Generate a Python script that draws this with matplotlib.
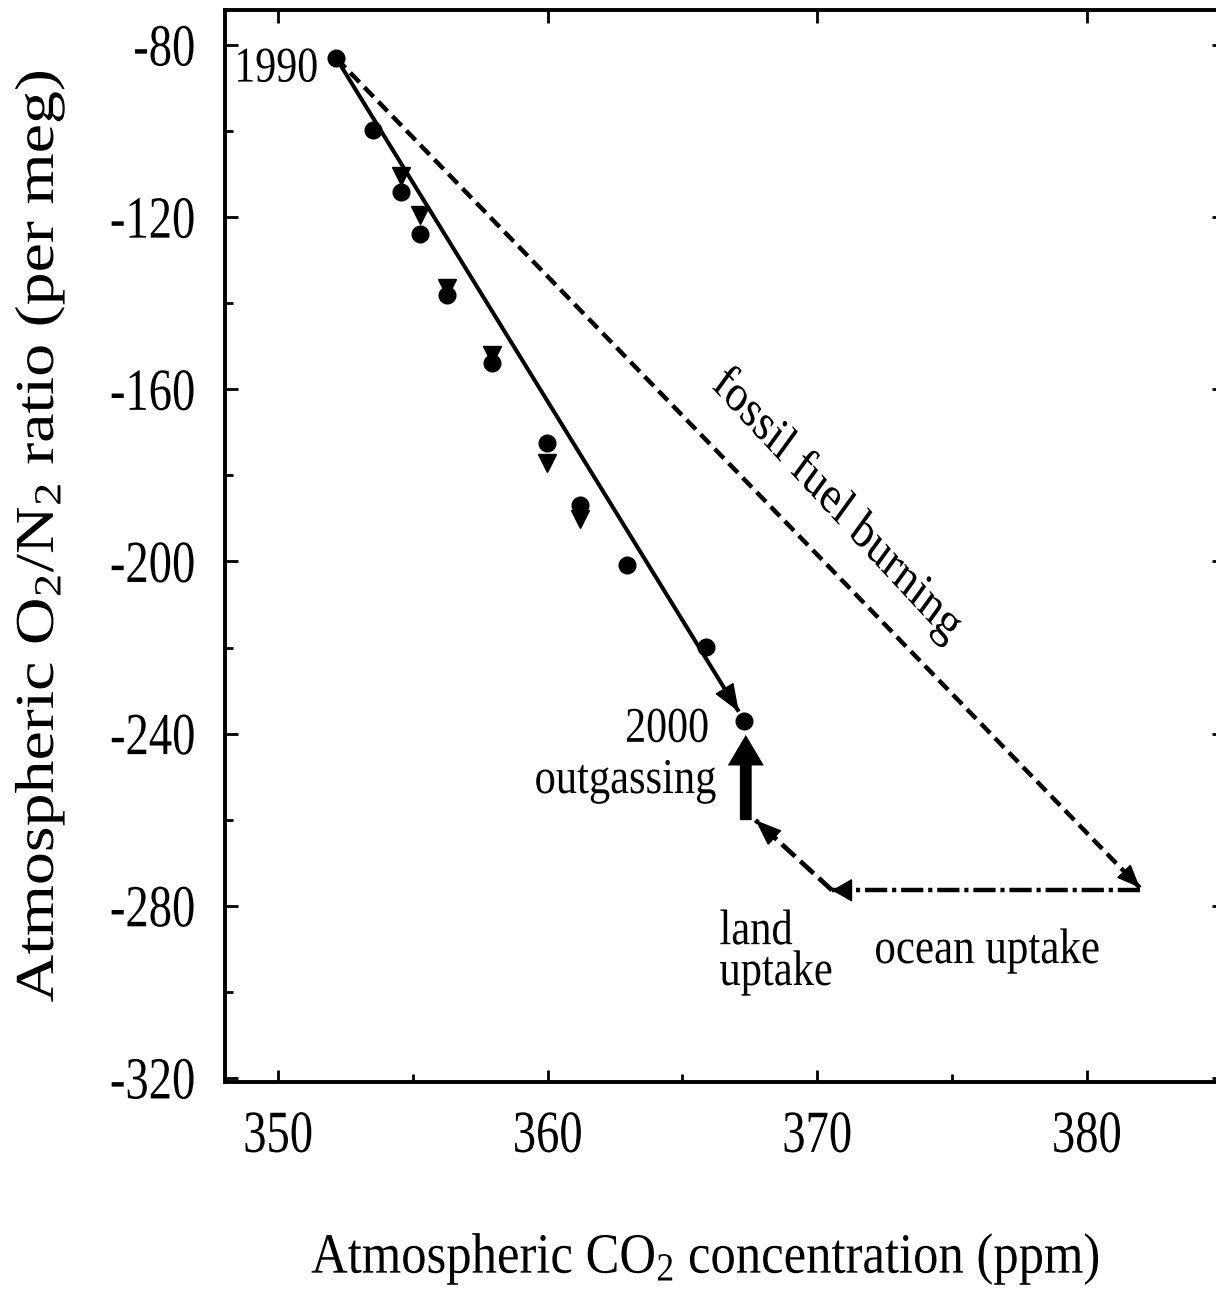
import matplotlib
matplotlib.use("Agg")
import matplotlib.pyplot as plt
from matplotlib.patheffects import AbstractPathEffect
from matplotlib.transforms import Affine2D

plt.rcParams["font.family"] = ["Liberation Serif", "DejaVu Serif"]
plt.rcParams["mathtext.fontset"] = "custom"
plt.rcParams["mathtext.rm"] = "Liberation Serif"
plt.rcParams["mathtext.it"] = "Liberation Serif:italic"
plt.rcParams["axes.unicode_minus"] = False
plt.rcParams["lines.scale_dashes"] = False

# ------------------------------------------------------------
# Data: annual means (CO2 in ppm, O2/N2 in per meg)
# ------------------------------------------------------------
circle_co2 = [352.16, 353.52, 354.57, 355.28, 356.27, 357.94,
              359.97, 361.21, 362.96, 365.86, 367.30]
circle_o2 = [-83.1, -99.7, -114.1, -123.8, -138.1, -154.0,
             -172.5, -186.9, -200.8, -219.8, -237.0]

tri_co2 = [354.57, 355.28, 356.27, 357.94, 359.97, 361.21]
tri_o2 = [-110.4, -119.5, -136.5, -152.0, -177.1, -190.1]

# budget vectors 1990 -> 2000
fit_start = (352.16, -83.1)
fit_end = (367.09, -234.9)
fossil_end = (381.97, -275.8)
ocean_start = (381.97, -276.4)
ocean_end = (370.55, -276.4)
land_end = (367.71, -260.1)
outgas_start = (367.35, -260.1)
outgas_end = (367.35, -240.3)

xticks = [350, 360, 370, 380]
xticks_minor = [355, 365, 375, 385]
yticks = [-80, -120, -160, -200, -240, -280, -320]
yticks_minor = [-100, -140, -180, -220, -260, -300]


class Narrow(AbstractPathEffect):
    """Draw glyphs compressed horizontally about their own ink box."""

    def __init__(self, sx=0.8, anchor="center"):
        super().__init__()
        self.sx = sx
        self.anchor = anchor

    def draw_path(self, renderer, gc, tpath, affine, rgbFace=None):
        ext = tpath.get_extents(affine)
        if self.anchor == "left":
            x0 = ext.x0
        elif self.anchor == "right":
            x0 = ext.x1
        else:
            x0 = 0.5 * (ext.x0 + ext.x1)
        squeeze = Affine2D().translate(-x0, 0).scale(self.sx, 1).translate(x0, 0)
        renderer.draw_path(gc, tpath, affine + squeeze, rgbFace)


def head(ax, start, end, hl, hw, frac=0.03):
    back = (end[0] - frac * (end[0] - start[0]),
            end[1] - frac * (end[1] - start[1]))
    ax.annotate("", xy=end, xytext=back,
                arrowprops=dict(arrowstyle=f"-|>,head_length={hl},head_width={hw}",
                                color="black", lw=1.0, shrinkA=0, shrinkB=0,
                                mutation_scale=10))


fig = plt.figure(figsize=(12.16, 12.96), dpi=100)
ax = fig.add_axes([0.18503, 0.16535, 0.82155, 0.82693])
ax.set_xlim(348.03, 385.09)
ax.set_ylim(-320.87, -71.87)

for s in ax.spines.values():
    s.set_linewidth(2.8)

ax.set_xticks(xticks)
ax.set_xticks(xticks_minor, minor=True)
ax.set_yticks(yticks)
ax.set_yticks(yticks_minor, minor=True)
ax.tick_params(which="both", direction="in", top=True, right=True, width=2.0)
ax.tick_params(which="major", length=9, labelsize=43, pad=21)
ax.tick_params(which="minor", length=6, top=False, right=False)

for lab in ax.get_xticklabels():
    lab.set_path_effects([Narrow(0.78, "center")])
for lab in ax.get_yticklabels():
    lab.set_path_effects([Narrow(0.78, "right")])

# fitted trend 1990-2000
ax.plot([fit_start[0], fit_end[0]], [fit_start[1], fit_end[1]],
        color="black", lw=2.9, solid_capstyle="butt")
head(ax, fit_start, fit_end, 1.8, 0.7, frac=0.025)

# fossil fuel burning
ax.plot([fit_start[0], fossil_end[0]], [fit_start[1], fossil_end[1]],
        color="black", lw=3.2, dashes=(9.5, 5))
head(ax, fit_start, fossil_end, 1.5, 0.62, frac=0.02)

# ocean uptake
ax.plot([ocean_start[0], ocean_end[0]], [ocean_start[1], ocean_end[1]],
        color="black", lw=3.2, dashes=(16, 3.5, 3, 3.5))
head(ax, ocean_start, ocean_end, 1.3, 0.75, frac=0.05)

# land uptake
ax.plot([ocean_end[0], land_end[0]], [ocean_end[1], land_end[1]],
        color="black", lw=3.4, dashes=(13, 5))
head(ax, ocean_end, land_end, 1.7, 0.65, frac=0.2)

# oceanic outgassing
ax.annotate("", xy=outgas_end, xytext=outgas_start,
            arrowprops=dict(arrowstyle="simple,head_length=2.2,head_width=2.6,tail_width=0.85",
                            fc="black", ec="black", lw=0, shrinkA=0, shrinkB=0,
                            mutation_scale=10))

# observations
ax.plot(tri_co2, tri_o2, ls="none", marker="v", ms=12.5, color="black")
ax.plot(circle_co2, circle_o2, ls="none", marker="o", ms=12, color="black")

txt = dict(fontsize=36, color="black")
ax.text(351.5, -88.5, "1990", ha="right", va="baseline",
        path_effects=[Narrow(0.84, "right")], **txt)
ax.text(366.0, -241.9, "2000", ha="right", va="baseline",
        path_effects=[Narrow(0.84, "right")], **txt)
ax.text(366.25, -253.8, "outgassing", ha="right", va="baseline",
        path_effects=[Narrow(0.85, "right")], **txt)
ax.text(366.37, -298.4, "land\nuptake", ha="left", va="baseline",
        multialignment="left", linespacing=0.84,
        path_effects=[Narrow(0.85, "left")], **txt)
ax.text(376.3, -293.3, "ocean uptake", ha="center", va="baseline",
        path_effects=[Narrow(0.86, "center")], **txt)
ax.text(370.72, -186.9, "fossil fuel burning", ha="center", va="center",
        rotation=-41.5, rotation_mode="anchor", fontsize=38,
        path_effects=[Narrow(0.82, "center")])

fig.text(706 / 1216, 1 - 1273 / 1296, r"Atmospheric CO$_2$ concentration (ppm)",
         ha="center", va="baseline", fontsize=41,
         path_effects=[Narrow(0.89, "center")])
fig.text(56 / 1216, 1 - 536 / 1296, r"Atmospheric O$_2$/N$_2$ ratio (per meg)",
         ha="center", va="baseline", rotation=90, rotation_mode="anchor",
         fontsize=47.5, path_effects=[Narrow(0.83, "center")])

fig.savefig("out.png", dpi=100)
